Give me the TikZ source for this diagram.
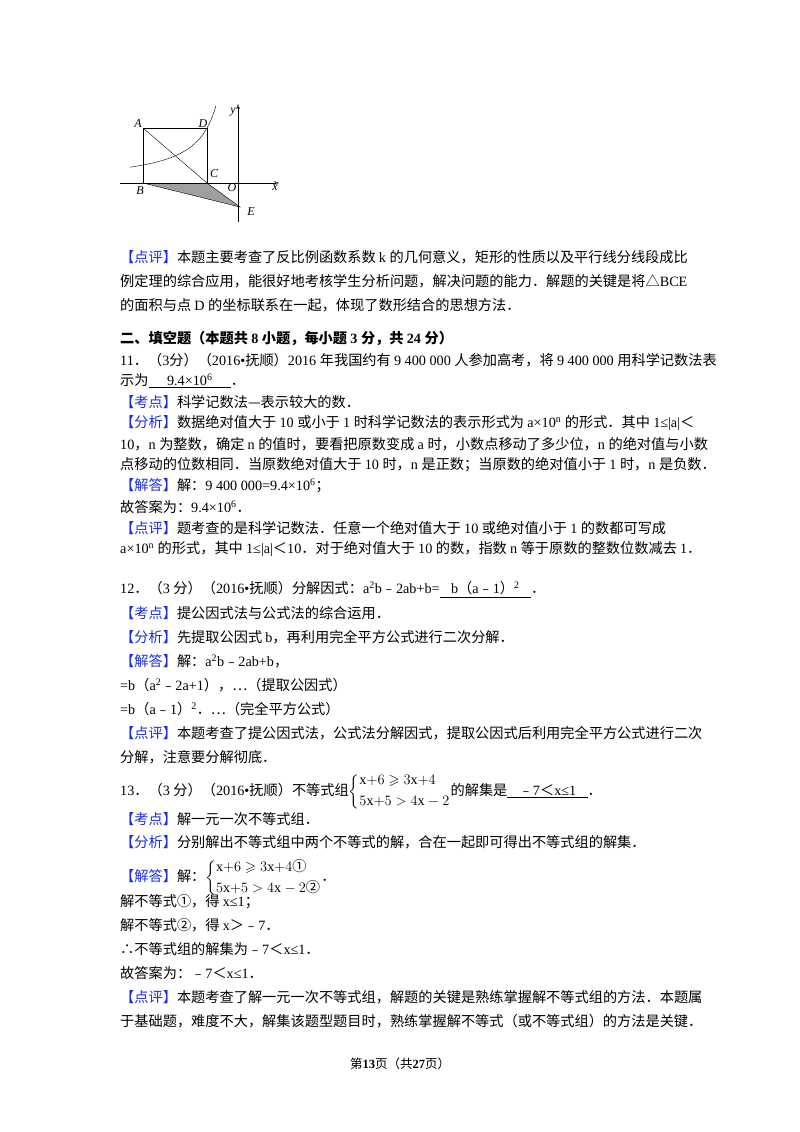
\documentclass[tikz,border=0pt]{standalone}
\usepackage{amsmath,amssymb}
\usepackage{fontspec}
\setmainfont{Liberation Serif}
\newfontfamily\cjk{Noto Sans CJK SC}
\newfontfamily\latf{Liberation Serif}
\usetikzlibrary{arrows.meta}
\makeatletter
\newXeTeXintercharclass\cjkclass
\def\setcls#1#2{\count@=#1 \loop\XeTeXcharclass\count@=\cjkclass\advance\count@ 1 \ifnum\count@<#2 \repeat}
\setcls{"4E00}{"A000}
\setcls{"3000}{"3040}
\setcls{"FF00}{"FFF0}
\setcls{"FE30}{"FE70}
\setcls{"2460}{"2500}
\setcls{"2026}{"2027}
\setcls{"2014}{"2015}
\setcls{"25B3}{"25B4}
\setcls{"2234}{"2235}
\makeatother
\XeTeXinterchartokenstate=1
\XeTeXinterchartoks 0 \cjkclass = {\cjk}
\XeTeXinterchartoks 4095 \cjkclass = {\cjk}
\XeTeXinterchartoks \cjkclass 0 = {\latf}
\XeTeXinterchartoks 4095 0 = {\latf}
\definecolor{lblue}{RGB}{25,45,225}
\newcommand{\tg}[1]{\textcolor{lblue}{【#1】}}
\newcommand{\ul}[1]{\underline{#1}}
\newcommand{\xx}{\mathrm{x}}
\begin{document}
\begin{tikzpicture}[x=1pt,y=-1pt,
  ln/.style={anchor=west,inner sep=0pt,font=\fontsize{14.2}{16}\selectfont},
  lbl/.style={inner sep=0pt,font=\itshape\fontsize{12}{12}\selectfont}]
\useasboundingbox (0,0) rectangle (800,1132);
% figure
\coordinate (A) at (143,128); \coordinate (D) at (207,128);
\coordinate (B) at (143,183); \coordinate (C) at (207,183);
\coordinate (E) at (240,207);
\fill[gray!75] (B) -- (C) -- (E) -- cycle;
\draw[thin] (A) rectangle (C);
\draw[thick] (A) -- (D);
\draw[thin] (A) -- (C);
\draw[thin] (B) -- (E) -- (C);
\draw[thin] plot[domain=-108:-22,samples=60] ({238+\x},{183-1705/(-\x)});
\draw[thin,-{Stealth[length=5pt,open]}] (120,183) -- (279,183);
\draw[thin,-{Stealth[length=5pt,open]}] (238,222) -- (238,104);
\node[lbl] (nA) at (138,124) {A};
\node[lbl] (nD) at (203,124) {D};
\node[lbl] (nB) at (140,191) {B};
\node[lbl] (nC) at (214,174) {C};
\node[lbl] (nO) at (232,188) {O};
\node[lbl] (nE) at (251,212) {E};
\node[lbl] (nx) at (275,188) {x};
\node[lbl] (ny) at (233,112) {y};
% text
\node[ln] (t1) at (120,257) {\tg{点评}本题主要考查了反比例函数系数 k 的几何意义，矩形的性质以及平行线分线段成比};
\node[ln] (t2) at (120,281) {例定理的综合应用，能很好地考核学生分析问题，解决问题的能力．解题的关键是将△BCE};
\node[ln] (t3) at (120,305) {的面积与点 D 的坐标联系在一起，体现了数形结合的思想方法．};
\node[ln,font=\bfseries\fontsize{14.2}{16}\selectfont] (h2) at (120,338) {二、填空题（本题共 8 小题，每小题 3 分，共 24 分）};
\node[ln] (a1) at (120,360) {11．（3分）（2016•抚顺）2016 年我国约有 9 400 000 人参加高考，将 9 400 000 用科学记数法表};
\node[ln] (a2) at (120,381) {示为\ul{\hspace{1.3em}9.4×10\textsuperscript{6}\hspace{1.3em}}．};
\node[ln] (a3) at (120,402) {\tg{考点}科学记数法—表示较大的数．};
\node[ln] (a4) at (120,423) {\tg{分析}数据绝对值大于 10 或小于 1 时科学记数法的表示形式为 a×10\textsuperscript{n} 的形式．其中 1≤|a|＜};
\node[ln] (a5) at (120,444) {10，n 为整数，确定 n 的值时，要看把原数变成 a 时，小数点移动了多少位，n 的绝对值与小数};
\node[ln] (a6) at (120,465) {点移动的位数相同．当原数绝对值大于 10 时，n 是正数；当原数的绝对值小于 1 时，n 是负数．};
\node[ln] (a7) at (120,486) {\tg{解答}解：9 400 000=9.4×10\textsuperscript{6}；};
\node[ln] (a8) at (120,507) {故答案为：9.4×10\textsuperscript{6}．};
\node[ln] (a9) at (120,528) {\tg{点评}题考查的是科学记数法．任意一个绝对值大于 10 或绝对值小于 1 的数都可写成};
\node[ln] (a10) at (120,549) {a×10\textsuperscript{n} 的形式，其中 1≤|a|＜10．对于绝对值大于 10 的数，指数 n 等于原数的整数位数减去 1．};
\node[ln] (b1) at (120,590) {12．（3 分）（2016•抚顺）分解因式：a\textsuperscript{2}b﹣2ab+b=\ul{\hspace{0.8em}b（a﹣1）\textsuperscript{2}\hspace{0.8em}}．};
\node[ln] (b2) at (120,613) {\tg{考点}提公因式法与公式法的综合运用．};
\node[ln] (b3) at (120,637) {\tg{分析}先提取公因式 b，再利用完全平方公式进行二次分解．};
\node[ln] (b4) at (120,661) {\tg{解答}解：a\textsuperscript{2}b﹣2ab+b，};
\node[ln] (b5) at (120,685) {=b（a\textsuperscript{2}﹣2a+1），…（提取公因式）};
\node[ln] (b6) at (120,709) {=b（a﹣1）\textsuperscript{2}．…（完全平方公式）};
\node[ln] (b7) at (120,733) {\tg{点评}本题考查了提公因式法，公式法分解因式，提取公因式后利用完全平方公式进行二次};
\node[ln] (b8) at (120,757) {分解，注意要分解彻底．};
\node[ln] (c1) at (120,792) {13．（3 分）（2016•抚顺）不等式组$\left\{\begin{array}{@{}l@{}}\xx{+}6\geqslant 3\xx{+}4\\[5pt] 5\xx{+}5>4\xx-2\end{array}\right.$的解集是\ul{\hspace{0.8em}﹣7＜x≤1\hspace{0.8em}}．};
\node[ln] (c2) at (120,819) {\tg{考点}解一元一次不等式组．};
\node[ln] (c3) at (120,842) {\tg{分析}分别解出不等式组中两个不等式的解，合在一起即可得出不等式组的解集．};
\node[ln] (c4) at (120,878) {\tg{解答}解：$\left\{\begin{array}{@{}l@{}}\xx{+}6\geqslant 3\xx{+}4\text{①}\\[4pt] 5\xx{+}5>4\xx-2\text{②}\end{array}\right.$．};
\node[ln] (c5) at (120,902) {解不等式①，得 x≤1；};
\node[ln] (c6) at (120,925) {解不等式②，得 x＞﹣7．};
\node[ln] (c7) at (120,949) {∴不等式组的解集为﹣7＜x≤1．};
\node[ln] (c8) at (120,973) {故答案为：﹣7＜x≤1．};
\node[ln] (c9) at (120,997) {\tg{点评}本题考查了解一元一次不等式组，解题的关键是熟练掌握解不等式组的方法．本题属};
\node[ln] (c10) at (120,1021) {于基础题，难度不大，解集该题型题目时，熟练掌握解不等式（或不等式组）的方法是关键．};
\node[inner sep=0pt,font=\fontsize{12.5}{14}\selectfont] (ft) at (400,1064) {第\textbf{13}页（共\textbf{27}页）};
\end{tikzpicture}
\end{document}
